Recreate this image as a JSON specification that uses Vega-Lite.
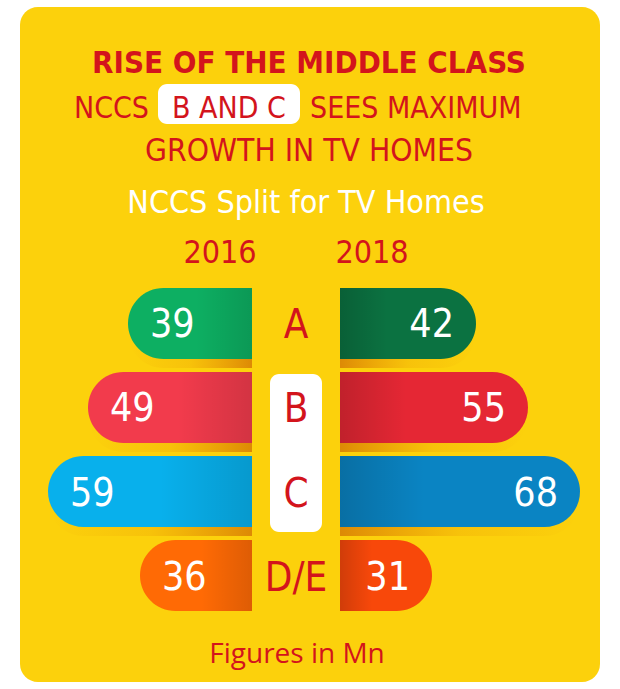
{
  "$schema": "https://vega.github.io/schema/vega-lite/v6.json",
  "width": 580,
  "height": 675,
  "autosize": {"type": "none"},
  "padding": {"left": 20, "top": 7, "right": 20, "bottom": 7},
  "background": "white",
  "view": {"fill": "#FCD10C", "cornerRadius": 18, "stroke": null},
  "config": {"font": "'DejaVu Sans Condensed', Roboto"},
  "datasets": {
    "bars": [
      {"cat": "A", "year": "2016", "value": 39},
      {"cat": "B", "year": "2016", "value": 49},
      {"cat": "C", "year": "2016", "value": 59},
      {"cat": "D/E", "year": "2016", "value": 36},
      {"cat": "A", "year": "2018", "value": 42},
      {"cat": "B", "year": "2018", "value": 55},
      {"cat": "C", "year": "2018", "value": 68},
      {"cat": "D/E", "year": "2018", "value": 31}
    ]
  },
  "layer": [
    {
      "data": {"values": [{"t": "RISE OF THE MIDDLE CLASS"}]},
      "mark": {"type": "text", "fontWeight": "bold", "fontSize": 31, "color": "#D3141C", "align": "center", "baseline": "alphabetic"},
      "encoding": {"text": {"field": "t"}, "x": {"value": 289}, "y": {"value": 66}}
    },
    {
      "data": {"values": [{"t": "box"}]},
      "mark": {"type": "rect", "color": "white", "cornerRadius": 9},
      "encoding": {"x": {"value": 138}, "x2": {"value": 280}, "y": {"value": 77}, "y2": {"value": 117}}
    },
    {
      "data": {"values": [{"t": "NCCS"}]},
      "mark": {"type": "text", "fontSize": 30, "color": "#D3141C", "align": "right", "baseline": "alphabetic"},
      "encoding": {"text": {"field": "t"}, "x": {"value": 129}, "y": {"value": 111}}
    },
    {
      "data": {"values": [{"t": "B AND C"}]},
      "mark": {"type": "text", "fontSize": 30, "color": "#D3141C", "align": "center", "baseline": "alphabetic"},
      "encoding": {"text": {"field": "t"}, "x": {"value": 209}, "y": {"value": 111}}
    },
    {
      "data": {"values": [{"t": "SEES MAXIMUM"}]},
      "mark": {"type": "text", "fontSize": 30, "color": "#D3141C", "align": "left", "baseline": "alphabetic"},
      "encoding": {"text": {"field": "t"}, "x": {"value": 290}, "y": {"value": 111}}
    },
    {
      "data": {"values": [{"t": "GROWTH IN TV HOMES"}]},
      "mark": {"type": "text", "fontSize": 31.5, "color": "#D3141C", "align": "center", "baseline": "alphabetic"},
      "encoding": {"text": {"field": "t"}, "x": {"value": 289}, "y": {"value": 154}}
    },
    {
      "data": {"values": [{"t": "NCCS Split for TV Homes"}]},
      "mark": {"type": "text", "fontSize": 32, "color": "white", "align": "center", "baseline": "alphabetic"},
      "encoding": {"text": {"field": "t"}, "x": {"value": 286}, "y": {"value": 206}}
    },
    {
      "data": {"values": [{"t": "2016"}]},
      "mark": {"type": "text", "fontSize": 32, "color": "#D3141C", "align": "center", "baseline": "alphabetic"},
      "encoding": {"text": {"field": "t"}, "x": {"value": 200}, "y": {"value": 256}}
    },
    {
      "data": {"values": [{"t": "2018"}]},
      "mark": {"type": "text", "fontSize": 32, "color": "#D3141C", "align": "center", "baseline": "alphabetic"},
      "encoding": {"text": {"field": "t"}, "x": {"value": 352}, "y": {"value": 256}}
    },
    {
      "data": {"values": [{"t": "Figures in Mn"}]},
      "mark": {"type": "text", "font": "Open Sans", "fontSize": 28, "color": "#D3141C", "align": "center", "baseline": "alphabetic"},
      "encoding": {"text": {"field": "t"}, "x": {"value": 277}, "y": {"value": 656}}
    },
    {
      "data": {"name": "bars"},
      "transform": [{"filter": "datum.year == '2016'"}],
      "encoding": {
        "y": {"field": "cat", "type": "nominal", "axis": null, "scale": {"domain": ["A", "B", "C", "D/E"], "range": [281, 604], "paddingInner": 0.155, "paddingOuter": 0}},
        "x": {"field": "value", "type": "quantitative", "axis": null, "scale": {"domain": [8, 70], "range": [232, -16], "zero": false, "nice": false}}
      },
      "layer": [
        {
          "transform": [{"filter": "datum.cat != 'D/E'"}],
          "mark": {"type": "bar", "yOffset": 9, "cornerRadiusTopLeft": 35.5, "cornerRadiusBottomLeft": 35.5,
            "color": {"gradient": "linear", "x1": 0, "x2": 1, "y1": 0, "y2": 0, "stops": [{"offset": 0, "color": "rgba(220,110,0,0)"}, {"offset": 0.5, "color": "rgba(220,110,0,0.15)"}, {"offset": 1, "color": "rgba(200,90,0,0.6)"}]}},
          "encoding": {"x2": {"datum": 8}}
        },
        {
          "mark": {"type": "bar", "cornerRadiusTopLeft": 35.5, "cornerRadiusBottomLeft": 35.5},
          "encoding": {
            "x2": {"datum": 8},
            "color": {"field": "cat", "type": "nominal", "legend": null, "scale": {"domain": ["A", "B", "C", "D/E"], "range": ["#0DAF62", "#F23B4C", "#08B0EC", "#FF6A05"]}}
          }
        },
        {
          "mark": {"type": "bar", "cornerRadiusTopLeft": 35.5, "cornerRadiusBottomLeft": 35.5,
            "color": {"gradient": "linear", "x1": 0, "x2": 1, "y1": 0, "y2": 0, "stops": [{"offset": 0, "color": "rgba(0,0,0,0)"}, {"offset": 0.55, "color": "rgba(0,0,0,0)"}, {"offset": 1, "color": "rgba(0,0,0,0.13)"}]}},
          "encoding": {"x2": {"datum": 8}}
        },
        {
          "mark": {"type": "text", "align": "left", "baseline": "middle", "dx": 22, "dy": 2, "fontSize": 39, "color": "white"},
          "encoding": {"text": {"field": "value"}}
        }
      ]
    },
    {
      "data": {"name": "bars"},
      "transform": [{"filter": "datum.year == '2018'"}],
      "encoding": {
        "y": {"field": "cat", "type": "nominal", "axis": null, "scale": {"domain": ["A", "B", "C", "D/E"], "range": [281, 604], "paddingInner": 0.155, "paddingOuter": 0}},
        "x": {"field": "value", "type": "quantitative", "axis": null, "scale": {"domain": [8, 70], "range": [320, 568], "zero": false, "nice": false}}
      },
      "layer": [
        {
          "transform": [{"filter": "datum.cat != 'D/E'"}],
          "mark": {"type": "bar", "yOffset": 9, "cornerRadiusTopRight": 35.5, "cornerRadiusBottomRight": 35.5,
            "color": {"gradient": "linear", "x1": 0, "x2": 1, "y1": 0, "y2": 0, "stops": [{"offset": 0, "color": "rgba(200,90,0,0.6)"}, {"offset": 0.5, "color": "rgba(220,110,0,0.15)"}, {"offset": 1, "color": "rgba(220,110,0,0)"}]}},
          "encoding": {"x2": {"datum": 8}}
        },
        {
          "mark": {"type": "bar", "cornerRadiusTopRight": 35.5, "cornerRadiusBottomRight": 35.5},
          "encoding": {
            "x2": {"datum": 8},
            "color": {"field": "cat", "type": "nominal", "legend": null, "scale": {"domain": ["A", "B", "C", "D/E"], "range": ["#0B7241", "#E52734", "#0A84C3", "#F8480A"]}}
          }
        },
        {
          "mark": {"type": "bar", "cornerRadiusTopRight": 35.5, "cornerRadiusBottomRight": 35.5,
            "color": {"gradient": "linear", "x1": 0, "x2": 1, "y1": 0, "y2": 0, "stops": [{"offset": 0, "color": "rgba(0,0,0,0.16)"}, {"offset": 0.35, "color": "rgba(0,0,0,0)"}, {"offset": 1, "color": "rgba(0,0,0,0)"}]}},
          "encoding": {"x2": {"datum": 8}}
        },
        {
          "mark": {"type": "text", "align": "right", "baseline": "middle", "dx": -22, "dy": 2, "fontSize": 39, "color": "white"},
          "encoding": {"text": {"field": "value"}}
        }
      ]
    },
    {
      "data": {"values": [{"t": "box"}]},
      "mark": {"type": "rect", "color": "white", "cornerRadius": 9},
      "encoding": {"x": {"value": 250}, "x2": {"value": 302}, "y": {"value": 367}, "y2": {"value": 525}}
    },
    {
      "data": {"name": "bars"},
      "transform": [{"filter": "datum.year == '2016'"}],
      "mark": {"type": "text", "align": "center", "baseline": "middle", "dy": 3, "fontSize": 40, "color": "#D3141C"},
      "encoding": {
        "y": {"field": "cat", "type": "nominal", "axis": null, "scale": {"domain": ["A", "B", "C", "D/E"], "range": [281, 604], "paddingInner": 0.155, "paddingOuter": 0}},
        "x": {"value": 276},
        "text": {"field": "cat"}
      }
    }
  ],
  "resolve": {"scale": {"x": "independent", "color": "independent"}}
}
